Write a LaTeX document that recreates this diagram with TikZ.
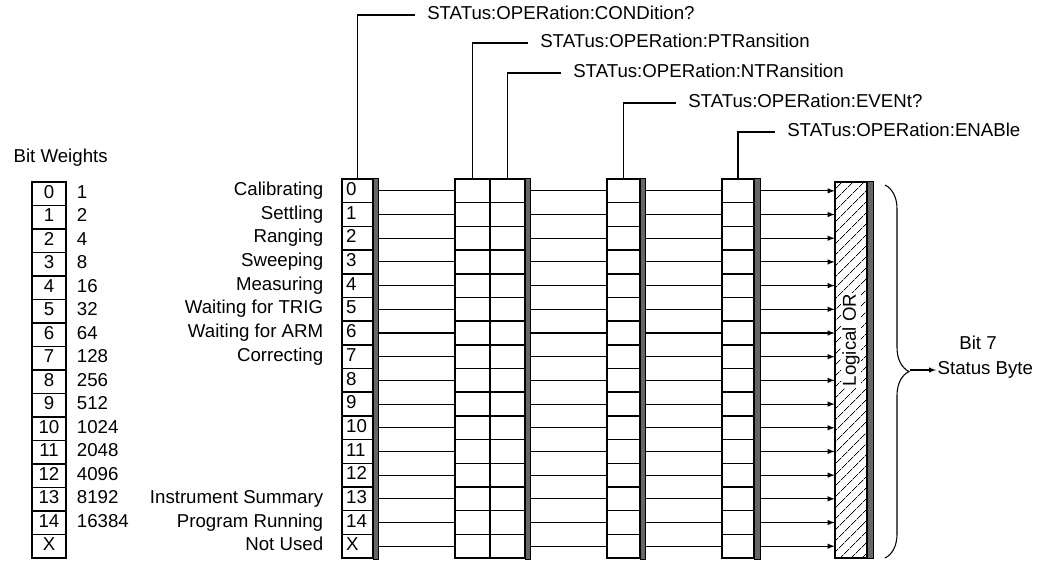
\documentclass[tikz,border=0pt]{standalone}
\usepackage{fontspec}
\setmainfont{Liberation Sans}
\usetikzlibrary{positioning,decorations.pathreplacing,patterns.meta}

\begin{document}
\begin{tikzpicture}[x=0.75pt,y=-0.75pt,
  font=\fontsize{14}{16}\selectfont,
  reg/.style={draw,line width=1.1pt,minimum height=17.77pt,inner sep=0pt},
  num/.style={reg,text width=17pt,align=left,inner xsep=3pt,text height=10pt,text depth=3pt},
  wbox/.style={draw,line width=1pt,minimum width=25.5pt,minimum height=17.6pt,inner sep=0pt,text height=10pt,text depth=3pt},
  lbl/.style={inner sep=1pt,text height=10pt,text depth=3pt},
  cmd/.style={anchor=west,inner xsep=9pt,inner ysep=1pt,text height=10pt,text depth=3pt},
  ln/.style={line width=0.8pt},
  shd/.style={fill=black!60,draw=black,line width=0.4pt}]
  \useasboundingbox (0,0) rectangle (1037,561);
  \clip (0,0) rectangle (1037,561);

  % bit weights
  \node[lbl,anchor=west] (bw) at (12,158) {Bit Weights};
  \foreach \wt [count=\i from 0] in {1,2,4,8,16,32,64,128,256,512,1024,2048,4096,8192,16384} {
    \node[wbox] (w\i) at (49,{193.75+23.5*\i}) {\i};
    \node[lbl,right=6.5pt of w\i] (v\i) {\wt};
  }
  \node[wbox] (w15) at (49,{193.75+23.5*15}) {X};

  % registers
  \foreach \d [count=\i from 0] in {0,1,2,3,4,5,6,7,8,9,10,11,12,13,14,X}
    \node[num] (c\i) at (357.5,{190.85+23.69*\i}) {\d};
  \foreach \i in {0,...,15} {
    \node[reg,minimum width=26.25pt] (p\i) at (472.5,{190.85+23.69*\i}) {};
    \node[reg,minimum width=26.25pt] (n\i) at (507.5,{190.85+23.69*\i}) {};
    \node[reg,minimum width=24.75pt] (e\i) at (623.5,{190.85+23.69*\i}) {};
    \node[reg,minimum width=24pt] (en\i) at (738,{190.85+23.69*\i}) {};
  }
  \node[draw,line width=1.1pt,minimum width=24pt,minimum height=282pt,inner sep=0pt,
    pattern={Lines[angle=45,distance=6.5pt,line width=0.5pt]}] (or) at (851,370) {};
  \node[rotate=90,fill=white,inner sep=1pt] (lor) at (851,340) {Logical OR};

  % condition labels
  \foreach \i/\t in {0/Calibrating,1/Settling,2/Ranging,3/Sweeping,4/Measuring,
      5/Waiting for TRIG,6/Waiting for ARM,7/Correcting,13/Instrument Summary,
      14/Program Running,15/Not Used}
    \node[lbl,left=12.5pt of c\i] (t\i) {\t};

  % bit lines
  \foreach \i in {0,...,15} {
    \draw[ln] (c\i.east) -- (p\i.west);
    \draw[ln] (n\i.east) -- (e\i.west);
    \draw[ln] (e\i.east) -- (en\i.west);
    \draw[ln,-latex] (en\i.east) -- (en\i.east -| or.west);
  }
  \path[shd] (c0.north east) rectangle ([xshift=3.75pt]c15.south east);
  \path[shd] (n0.north east) rectangle ([xshift=3.75pt]n15.south east);
  \path[shd] (e0.north east) rectangle ([xshift=3.75pt]e15.south east);
  \path[shd] (en0.north east) rectangle ([xshift=4.5pt]en15.south east);
  \path[shd] (or.north east) rectangle ([xshift=4.5pt]or.south east);

  % commands
  \node[cmd] (qcond) at (415,15) {STATus:OPERation:CONDition?};
  \node[cmd] (qptr) at (528,43) {STATus:OPERation:PTRansition};
  \node[cmd] (qntr) at (561,73) {STATus:OPERation:NTRansition};
  \node[cmd] (qevt) at (676,103) {STATus:OPERation:EVENt?};
  \node[cmd] (qena) at (775,132) {STATus:OPERation:ENABle};
  \draw[ln] (c0.north) |- (qcond.west);
  \draw[ln] (p0.north) |- (qptr.west);
  \draw[ln] (n0.north) |- (qntr.west);
  \draw[ln] (e0.north) |- (qevt.west);
  \draw[ln] (en0.north) |- (qena.west);

  % summary bit
  \coordinate (bt) at (885,185);
  \coordinate (bb) at (885,558);
  \coordinate (btip) at (910,370);
  \draw[ln,decorate,decoration={brace,amplitude=18pt}] (bt) -- (bb);
  \node[lbl,anchor=west,inner xsep=1pt] (sb) at (936,370) {Status Byte};
  \node[lbl] (b7) at (978,345) {Bit 7};
  \draw[ln,-latex] (btip) -- (sb.west);
\end{tikzpicture}
\end{document}
